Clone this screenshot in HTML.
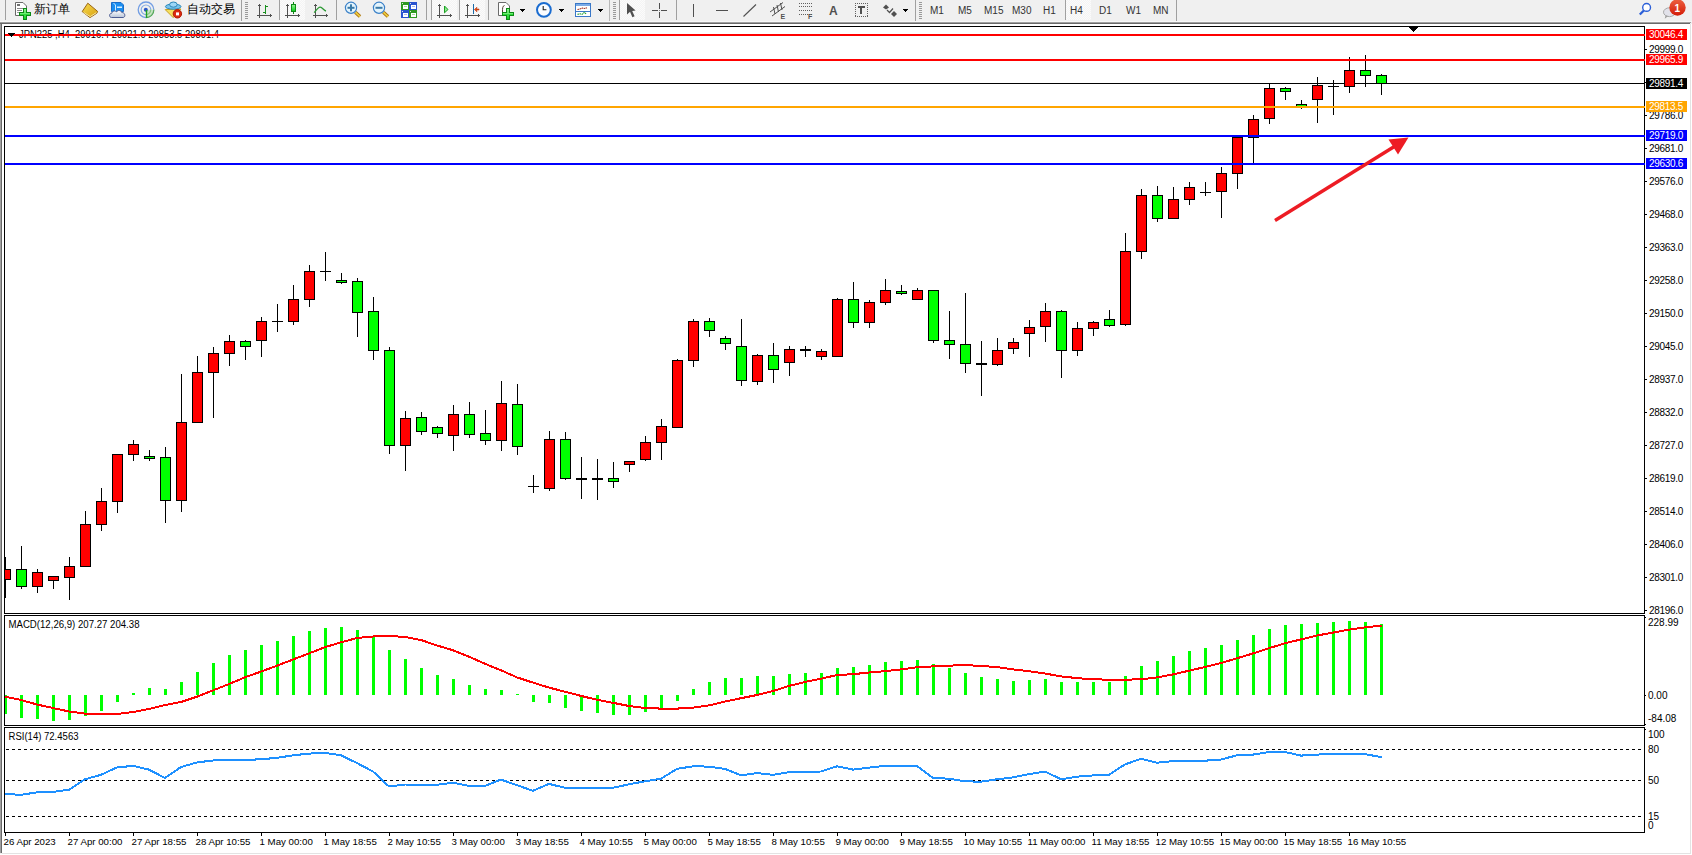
<!DOCTYPE html><html><head><meta charset="utf-8"><title>MT4 JPN225 H4</title><style>
html,body{margin:0;padding:0;background:#f0f0f0;width:1692px;height:855px;overflow:hidden}
svg{position:absolute;left:0;top:0;display:block}
.t,.a,.tf,.ic,.icA,.badge{font-family:"Liberation Sans",sans-serif}
.t{font-size:10px;fill:#000}
.a{font-size:10px;fill:#000}
.w{fill:#fff}
.tl{font-size:9.7px}
.pl{letter-spacing:-0.3px}
.cn{font-family:"Liberation Sans",sans-serif;font-size:12px;fill:#000}
.tf{font-size:10px;fill:#333}
.ic{font-size:7px;font-weight:bold;fill:#505050}
.icA{font-size:12px;font-weight:bold;fill:#505050}
.badge{font-size:10px;font-weight:bold;fill:#fff}
</style></head><body><svg class="chart" width="1692" height="855" viewBox="0 0 1692 855" shape-rendering="crispEdges"><defs><clipPath id="cm"><rect x="5" y="27" width="1640" height="586"/></clipPath><clipPath id="cmacd"><rect x="5" y="616" width="1639" height="109"/></clipPath><clipPath id="crsi"><rect x="5" y="728" width="1639" height="104"/></clipPath></defs><rect x="0" y="24" width="2" height="829" fill="#a0a0a0"/><rect x="1" y="24" width="1" height="829" fill="#696969"/><rect x="2" y="24" width="1688" height="829" fill="#ffffff"/><rect x="1691" y="24" width="1" height="831" fill="#ffffff"/><rect x="0" y="854" width="1692" height="1" fill="#ffffff"/><rect x="1690" y="24" width="1" height="830" fill="#e3e3e3"/><rect x="2" y="853" width="1689" height="1" fill="#e3e3e3"/><rect x="4" y="26" width="1641" height="1" fill="#000"/><rect x="4" y="613" width="1641" height="1" fill="#000"/><rect x="4" y="26" width="1" height="588" fill="#000"/><rect x="1644" y="26" width="1" height="588" fill="#000"/><rect x="4" y="615" width="1641" height="1" fill="#000"/><rect x="4" y="725" width="1641" height="1" fill="#000"/><rect x="4" y="615" width="1" height="111" fill="#000"/><rect x="1644" y="615" width="1" height="111" fill="#000"/><rect x="4" y="727" width="1641" height="1" fill="#000"/><rect x="4" y="832" width="1641" height="1" fill="#000"/><rect x="4" y="727" width="1" height="106" fill="#000"/><rect x="1644" y="727" width="1" height="106" fill="#000"/><g clip-path="url(#cm)"><rect x="5" y="83" width="1639" height="1" fill="#000"/><rect x="1409" y="27" width="9" height="1" fill="#000"/><rect x="1410" y="28" width="7" height="1" fill="#000"/><rect x="1411" y="29" width="5" height="1" fill="#000"/><rect x="1412" y="30" width="3" height="1" fill="#000"/><rect x="1413" y="31" width="1" height="1" fill="#000"/><rect x="5" y="557" width="1" height="41" fill="#000"/><rect x="0" y="569" width="11" height="11" fill="#000"/><rect x="1" y="570" width="9" height="9" fill="#ff0000"/><rect x="21" y="546" width="1" height="43" fill="#000"/><rect x="16" y="569" width="11" height="18" fill="#000"/><rect x="17" y="570" width="9" height="16" fill="#00ff00"/><rect x="37" y="569" width="1" height="24" fill="#000"/><rect x="32" y="572" width="11" height="15" fill="#000"/><rect x="33" y="573" width="9" height="13" fill="#ff0000"/><rect x="53" y="576" width="1" height="13" fill="#000"/><rect x="48" y="576" width="11" height="5" fill="#000"/><rect x="49" y="577" width="9" height="3" fill="#ff0000"/><rect x="69" y="557" width="1" height="43" fill="#000"/><rect x="64" y="566" width="11" height="12" fill="#000"/><rect x="65" y="567" width="9" height="10" fill="#ff0000"/><rect x="85" y="511" width="1" height="56" fill="#000"/><rect x="80" y="524" width="11" height="43" fill="#000"/><rect x="81" y="525" width="9" height="41" fill="#ff0000"/><rect x="101" y="488" width="1" height="43" fill="#000"/><rect x="96" y="501" width="11" height="24" fill="#000"/><rect x="97" y="502" width="9" height="22" fill="#ff0000"/><rect x="117" y="454" width="1" height="59" fill="#000"/><rect x="112" y="454" width="11" height="48" fill="#000"/><rect x="113" y="455" width="9" height="46" fill="#ff0000"/><rect x="133" y="440" width="1" height="21" fill="#000"/><rect x="128" y="444" width="11" height="11" fill="#000"/><rect x="129" y="445" width="9" height="9" fill="#ff0000"/><rect x="149" y="450" width="1" height="11" fill="#000"/><rect x="144" y="456" width="11" height="3" fill="#000"/><rect x="145" y="457" width="9" height="1" fill="#00ff00"/><rect x="165" y="447" width="1" height="76" fill="#000"/><rect x="160" y="457" width="11" height="44" fill="#000"/><rect x="161" y="458" width="9" height="42" fill="#00ff00"/><rect x="181" y="374" width="1" height="138" fill="#000"/><rect x="176" y="422" width="11" height="79" fill="#000"/><rect x="177" y="423" width="9" height="77" fill="#ff0000"/><rect x="197" y="356" width="1" height="67" fill="#000"/><rect x="192" y="372" width="11" height="51" fill="#000"/><rect x="193" y="373" width="9" height="49" fill="#ff0000"/><rect x="213" y="347" width="1" height="71" fill="#000"/><rect x="208" y="353" width="11" height="20" fill="#000"/><rect x="209" y="354" width="9" height="18" fill="#ff0000"/><rect x="229" y="335" width="1" height="31" fill="#000"/><rect x="224" y="341" width="11" height="13" fill="#000"/><rect x="225" y="342" width="9" height="11" fill="#ff0000"/><rect x="245" y="340" width="1" height="20" fill="#000"/><rect x="240" y="341" width="11" height="6" fill="#000"/><rect x="241" y="342" width="9" height="4" fill="#00ff00"/><rect x="261" y="317" width="1" height="40" fill="#000"/><rect x="256" y="321" width="11" height="20" fill="#000"/><rect x="257" y="322" width="9" height="18" fill="#ff0000"/><rect x="277" y="304" width="1" height="28" fill="#000"/><rect x="272" y="321" width="11" height="1" fill="#000"/><rect x="293" y="285" width="1" height="40" fill="#000"/><rect x="288" y="299" width="11" height="23" fill="#000"/><rect x="289" y="300" width="9" height="21" fill="#ff0000"/><rect x="309" y="265" width="1" height="42" fill="#000"/><rect x="304" y="271" width="11" height="29" fill="#000"/><rect x="305" y="272" width="9" height="27" fill="#ff0000"/><rect x="325" y="252" width="1" height="29" fill="#000"/><rect x="320" y="271" width="11" height="1" fill="#000"/><rect x="341" y="273" width="1" height="11" fill="#000"/><rect x="336" y="280" width="11" height="3" fill="#000"/><rect x="337" y="281" width="9" height="1" fill="#00ff00"/><rect x="357" y="278" width="1" height="59" fill="#000"/><rect x="352" y="281" width="11" height="32" fill="#000"/><rect x="353" y="282" width="9" height="30" fill="#00ff00"/><rect x="373" y="297" width="1" height="63" fill="#000"/><rect x="368" y="311" width="11" height="40" fill="#000"/><rect x="369" y="312" width="9" height="38" fill="#00ff00"/><rect x="389" y="347" width="1" height="107" fill="#000"/><rect x="384" y="350" width="11" height="96" fill="#000"/><rect x="385" y="351" width="9" height="94" fill="#00ff00"/><rect x="405" y="411" width="1" height="60" fill="#000"/><rect x="400" y="418" width="11" height="28" fill="#000"/><rect x="401" y="419" width="9" height="26" fill="#ff0000"/><rect x="421" y="412" width="1" height="23" fill="#000"/><rect x="416" y="417" width="11" height="15" fill="#000"/><rect x="417" y="418" width="9" height="13" fill="#00ff00"/><rect x="437" y="426" width="1" height="12" fill="#000"/><rect x="432" y="427" width="11" height="7" fill="#000"/><rect x="433" y="428" width="9" height="5" fill="#00ff00"/><rect x="453" y="405" width="1" height="46" fill="#000"/><rect x="448" y="414" width="11" height="22" fill="#000"/><rect x="449" y="415" width="9" height="20" fill="#ff0000"/><rect x="469" y="402" width="1" height="36" fill="#000"/><rect x="464" y="414" width="11" height="21" fill="#000"/><rect x="465" y="415" width="9" height="19" fill="#00ff00"/><rect x="485" y="410" width="1" height="35" fill="#000"/><rect x="480" y="433" width="11" height="8" fill="#000"/><rect x="481" y="434" width="9" height="6" fill="#00ff00"/><rect x="501" y="381" width="1" height="70" fill="#000"/><rect x="496" y="403" width="11" height="38" fill="#000"/><rect x="497" y="404" width="9" height="36" fill="#ff0000"/><rect x="517" y="384" width="1" height="71" fill="#000"/><rect x="512" y="404" width="11" height="43" fill="#000"/><rect x="513" y="405" width="9" height="41" fill="#00ff00"/><rect x="533" y="475" width="1" height="18" fill="#000"/><rect x="528" y="486" width="11" height="1" fill="#000"/><rect x="549" y="431" width="1" height="60" fill="#000"/><rect x="544" y="439" width="11" height="50" fill="#000"/><rect x="545" y="440" width="9" height="48" fill="#ff0000"/><rect x="565" y="432" width="1" height="48" fill="#000"/><rect x="560" y="439" width="11" height="40" fill="#000"/><rect x="561" y="440" width="9" height="38" fill="#00ff00"/><rect x="581" y="457" width="1" height="42" fill="#000"/><rect x="576" y="478" width="11" height="2" fill="#000"/><rect x="597" y="459" width="1" height="41" fill="#000"/><rect x="592" y="478" width="11" height="2" fill="#000"/><rect x="613" y="462" width="1" height="26" fill="#000"/><rect x="608" y="478" width="11" height="4" fill="#000"/><rect x="609" y="479" width="9" height="2" fill="#00ff00"/><rect x="629" y="461" width="1" height="11" fill="#000"/><rect x="624" y="461" width="11" height="4" fill="#000"/><rect x="625" y="462" width="9" height="2" fill="#ff0000"/><rect x="645" y="436" width="1" height="25" fill="#000"/><rect x="640" y="442" width="11" height="18" fill="#000"/><rect x="641" y="443" width="9" height="16" fill="#ff0000"/><rect x="661" y="419" width="1" height="41" fill="#000"/><rect x="656" y="426" width="11" height="17" fill="#000"/><rect x="657" y="427" width="9" height="15" fill="#ff0000"/><rect x="677" y="359" width="1" height="69" fill="#000"/><rect x="672" y="360" width="11" height="68" fill="#000"/><rect x="673" y="361" width="9" height="66" fill="#ff0000"/><rect x="693" y="319" width="1" height="48" fill="#000"/><rect x="688" y="321" width="11" height="40" fill="#000"/><rect x="689" y="322" width="9" height="38" fill="#ff0000"/><rect x="709" y="318" width="1" height="19" fill="#000"/><rect x="704" y="321" width="11" height="10" fill="#000"/><rect x="705" y="322" width="9" height="8" fill="#00ff00"/><rect x="725" y="336" width="1" height="14" fill="#000"/><rect x="720" y="338" width="11" height="6" fill="#000"/><rect x="721" y="339" width="9" height="4" fill="#00ff00"/><rect x="741" y="319" width="1" height="67" fill="#000"/><rect x="736" y="346" width="11" height="35" fill="#000"/><rect x="737" y="347" width="9" height="33" fill="#00ff00"/><rect x="757" y="354" width="1" height="31" fill="#000"/><rect x="752" y="355" width="11" height="27" fill="#000"/><rect x="753" y="356" width="9" height="25" fill="#ff0000"/><rect x="773" y="343" width="1" height="40" fill="#000"/><rect x="768" y="355" width="11" height="15" fill="#000"/><rect x="769" y="356" width="9" height="13" fill="#00ff00"/><rect x="789" y="346" width="1" height="30" fill="#000"/><rect x="784" y="349" width="11" height="14" fill="#000"/><rect x="785" y="350" width="9" height="12" fill="#ff0000"/><rect x="805" y="346" width="1" height="11" fill="#000"/><rect x="800" y="349" width="11" height="2" fill="#000"/><rect x="821" y="349" width="1" height="11" fill="#000"/><rect x="816" y="351" width="11" height="6" fill="#000"/><rect x="817" y="352" width="9" height="4" fill="#ff0000"/><rect x="837" y="298" width="1" height="59" fill="#000"/><rect x="832" y="299" width="11" height="58" fill="#000"/><rect x="833" y="300" width="9" height="56" fill="#ff0000"/><rect x="853" y="282" width="1" height="46" fill="#000"/><rect x="848" y="299" width="11" height="24" fill="#000"/><rect x="849" y="300" width="9" height="22" fill="#00ff00"/><rect x="869" y="300" width="1" height="28" fill="#000"/><rect x="864" y="302" width="11" height="21" fill="#000"/><rect x="865" y="303" width="9" height="19" fill="#ff0000"/><rect x="885" y="279" width="1" height="26" fill="#000"/><rect x="880" y="290" width="11" height="13" fill="#000"/><rect x="881" y="291" width="9" height="11" fill="#ff0000"/><rect x="901" y="285" width="1" height="10" fill="#000"/><rect x="896" y="291" width="11" height="3" fill="#000"/><rect x="897" y="292" width="9" height="1" fill="#00ff00"/><rect x="917" y="288" width="1" height="12" fill="#000"/><rect x="912" y="290" width="11" height="10" fill="#000"/><rect x="913" y="291" width="9" height="8" fill="#ff0000"/><rect x="933" y="290" width="1" height="53" fill="#000"/><rect x="928" y="290" width="11" height="51" fill="#000"/><rect x="929" y="291" width="9" height="49" fill="#00ff00"/><rect x="949" y="311" width="1" height="48" fill="#000"/><rect x="944" y="340" width="11" height="5" fill="#000"/><rect x="945" y="341" width="9" height="3" fill="#00ff00"/><rect x="965" y="293" width="1" height="80" fill="#000"/><rect x="960" y="344" width="11" height="20" fill="#000"/><rect x="961" y="345" width="9" height="18" fill="#00ff00"/><rect x="981" y="341" width="1" height="55" fill="#000"/><rect x="976" y="363" width="11" height="2" fill="#000"/><rect x="997" y="338" width="1" height="28" fill="#000"/><rect x="992" y="350" width="11" height="15" fill="#000"/><rect x="993" y="351" width="9" height="13" fill="#ff0000"/><rect x="1013" y="338" width="1" height="16" fill="#000"/><rect x="1008" y="342" width="11" height="7" fill="#000"/><rect x="1009" y="343" width="9" height="5" fill="#ff0000"/><rect x="1029" y="320" width="1" height="37" fill="#000"/><rect x="1024" y="327" width="11" height="7" fill="#000"/><rect x="1025" y="328" width="9" height="5" fill="#ff0000"/><rect x="1045" y="303" width="1" height="39" fill="#000"/><rect x="1040" y="311" width="11" height="16" fill="#000"/><rect x="1041" y="312" width="9" height="14" fill="#ff0000"/><rect x="1061" y="310" width="1" height="68" fill="#000"/><rect x="1056" y="311" width="11" height="40" fill="#000"/><rect x="1057" y="312" width="9" height="38" fill="#00ff00"/><rect x="1077" y="322" width="1" height="34" fill="#000"/><rect x="1072" y="328" width="11" height="23" fill="#000"/><rect x="1073" y="329" width="9" height="21" fill="#ff0000"/><rect x="1093" y="321" width="1" height="15" fill="#000"/><rect x="1088" y="322" width="11" height="7" fill="#000"/><rect x="1089" y="323" width="9" height="5" fill="#ff0000"/><rect x="1109" y="310" width="1" height="17" fill="#000"/><rect x="1104" y="319" width="11" height="7" fill="#000"/><rect x="1105" y="320" width="9" height="5" fill="#00ff00"/><rect x="1125" y="233" width="1" height="93" fill="#000"/><rect x="1120" y="251" width="11" height="74" fill="#000"/><rect x="1121" y="252" width="9" height="72" fill="#ff0000"/><rect x="1141" y="189" width="1" height="70" fill="#000"/><rect x="1136" y="195" width="11" height="57" fill="#000"/><rect x="1137" y="196" width="9" height="55" fill="#ff0000"/><rect x="1157" y="186" width="1" height="36" fill="#000"/><rect x="1152" y="195" width="11" height="24" fill="#000"/><rect x="1153" y="196" width="9" height="22" fill="#00ff00"/><rect x="1173" y="187" width="1" height="32" fill="#000"/><rect x="1168" y="199" width="11" height="20" fill="#000"/><rect x="1169" y="200" width="9" height="18" fill="#ff0000"/><rect x="1189" y="182" width="1" height="23" fill="#000"/><rect x="1184" y="187" width="11" height="13" fill="#000"/><rect x="1185" y="188" width="9" height="11" fill="#ff0000"/><rect x="1205" y="182" width="1" height="14" fill="#000"/><rect x="1200" y="192" width="11" height="1" fill="#000"/><rect x="1221" y="167" width="1" height="51" fill="#000"/><rect x="1216" y="173" width="11" height="19" fill="#000"/><rect x="1217" y="174" width="9" height="17" fill="#ff0000"/><rect x="1237" y="136" width="1" height="53" fill="#000"/><rect x="1232" y="137" width="11" height="37" fill="#000"/><rect x="1233" y="138" width="9" height="35" fill="#ff0000"/><rect x="1253" y="115" width="1" height="49" fill="#000"/><rect x="1248" y="119" width="11" height="19" fill="#000"/><rect x="1249" y="120" width="9" height="17" fill="#ff0000"/><rect x="1269" y="83" width="1" height="41" fill="#000"/><rect x="1264" y="88" width="11" height="31" fill="#000"/><rect x="1265" y="89" width="9" height="29" fill="#ff0000"/><rect x="1285" y="87" width="1" height="13" fill="#000"/><rect x="1280" y="88" width="11" height="4" fill="#000"/><rect x="1281" y="89" width="9" height="2" fill="#00ff00"/><rect x="1301" y="100" width="1" height="9" fill="#000"/><rect x="1296" y="104" width="11" height="4" fill="#000"/><rect x="1297" y="105" width="9" height="2" fill="#00ff00"/><rect x="1317" y="77" width="1" height="46" fill="#000"/><rect x="1312" y="85" width="11" height="15" fill="#000"/><rect x="1313" y="86" width="9" height="13" fill="#ff0000"/><rect x="1333" y="80" width="1" height="35" fill="#000"/><rect x="1328" y="86" width="11" height="1" fill="#000"/><rect x="1349" y="57" width="1" height="36" fill="#000"/><rect x="1344" y="70" width="11" height="17" fill="#000"/><rect x="1345" y="71" width="9" height="15" fill="#ff0000"/><rect x="1365" y="55" width="1" height="32" fill="#000"/><rect x="1360" y="70" width="11" height="6" fill="#000"/><rect x="1361" y="71" width="9" height="4" fill="#00ff00"/><rect x="1381" y="74" width="1" height="21" fill="#000"/><rect x="1376" y="75" width="11" height="9" fill="#000"/><rect x="1377" y="76" width="9" height="7" fill="#00ff00"/><text x="19" y="38" class="t" textLength="200" lengthAdjust="spacingAndGlyphs">JPN225 ,H4&#160;&#160;29916.4 29921.0 29853.5 29891.4</text><rect x="5" y="34" width="1640" height="2" fill="#ff0000"/><rect x="5" y="59" width="1640" height="2" fill="#ff0000"/><rect x="5" y="106" width="1640" height="2" fill="#ffa500"/><rect x="5" y="135" width="1640" height="2" fill="#0000ff"/><rect x="5" y="163" width="1640" height="2" fill="#0000ff"/><rect x="8" y="33" width="7" height="1" fill="#000"/><rect x="9" y="34" width="5" height="1" fill="#000"/><rect x="10" y="35" width="3" height="1" fill="#000"/><rect x="11" y="36" width="1" height="1" fill="#000"/><g shape-rendering="auto"><line x1="1275" y1="220.5" x2="1396" y2="145.5" stroke="#ed1c24" stroke-width="3.4"/><polygon points="1388.5,139.5 1408.5,137.5 1398,154.5" fill="#ed1c24"/></g></g><rect x="1645" y="49" width="2" height="1" fill="#000"/><text x="1649" y="53" class="a pl">29999.0</text><rect x="1645" y="82" width="2" height="1" fill="#000"/><text x="1649" y="86" class="a pl">29893.0</text><rect x="1645" y="115" width="2" height="1" fill="#000"/><text x="1649" y="119" class="a pl">29786.0</text><rect x="1645" y="148" width="2" height="1" fill="#000"/><text x="1649" y="152" class="a pl">29681.0</text><rect x="1645" y="181" width="2" height="1" fill="#000"/><text x="1649" y="185" class="a pl">29576.0</text><rect x="1645" y="214" width="2" height="1" fill="#000"/><text x="1649" y="218" class="a pl">29468.0</text><rect x="1645" y="247" width="2" height="1" fill="#000"/><text x="1649" y="251" class="a pl">29363.0</text><rect x="1645" y="280" width="2" height="1" fill="#000"/><text x="1649" y="284" class="a pl">29258.0</text><rect x="1645" y="313" width="2" height="1" fill="#000"/><text x="1649" y="317" class="a pl">29150.0</text><rect x="1645" y="346" width="2" height="1" fill="#000"/><text x="1649" y="350" class="a pl">29045.0</text><rect x="1645" y="379" width="2" height="1" fill="#000"/><text x="1649" y="383" class="a pl">28937.0</text><rect x="1645" y="412" width="2" height="1" fill="#000"/><text x="1649" y="416" class="a pl">28832.0</text><rect x="1645" y="445" width="2" height="1" fill="#000"/><text x="1649" y="449" class="a pl">28727.0</text><rect x="1645" y="478" width="2" height="1" fill="#000"/><text x="1649" y="482" class="a pl">28619.0</text><rect x="1645" y="511" width="2" height="1" fill="#000"/><text x="1649" y="515" class="a pl">28514.0</text><rect x="1645" y="544" width="2" height="1" fill="#000"/><text x="1649" y="548" class="a pl">28406.0</text><rect x="1645" y="577" width="2" height="1" fill="#000"/><text x="1649" y="581" class="a pl">28301.0</text><rect x="1645" y="610" width="2" height="1" fill="#000"/><text x="1649" y="614" class="a pl">28196.0</text><rect x="1646" y="29" width="41" height="11" fill="#ff0000"/><text x="1649" y="38" class="a w pl">30046.4</text><rect x="1646" y="54" width="41" height="11" fill="#ff0000"/><text x="1649" y="63" class="a w pl">29965.9</text><rect x="1646" y="78" width="41" height="11" fill="#000000"/><text x="1649" y="87" class="a w pl">29891.4</text><rect x="1646" y="101" width="41" height="11" fill="#ffa500"/><text x="1649" y="110" class="a w pl">29813.5</text><rect x="1646" y="130" width="41" height="11" fill="#0000ff"/><text x="1649" y="139" class="a w pl">29719.0</text><rect x="1646" y="158" width="41" height="11" fill="#0000ff"/><text x="1649" y="167" class="a w pl">29630.6</text><g clip-path="url(#cmacd)"><rect x="4" y="695" width="3" height="19" fill="#00ff00"/><rect x="20" y="695" width="3" height="23" fill="#00ff00"/><rect x="36" y="695" width="3" height="24" fill="#00ff00"/><rect x="52" y="695" width="3" height="26" fill="#00ff00"/><rect x="68" y="695" width="3" height="25" fill="#00ff00"/><rect x="84" y="695" width="3" height="21" fill="#00ff00"/><rect x="100" y="695" width="3" height="16" fill="#00ff00"/><rect x="116" y="695" width="3" height="7" fill="#00ff00"/><rect x="132" y="693" width="3" height="2" fill="#00ff00"/><rect x="148" y="688" width="3" height="7" fill="#00ff00"/><rect x="164" y="689" width="3" height="6" fill="#00ff00"/><rect x="180" y="682" width="3" height="13" fill="#00ff00"/><rect x="196" y="672" width="3" height="23" fill="#00ff00"/><rect x="212" y="663" width="3" height="32" fill="#00ff00"/><rect x="228" y="655" width="3" height="40" fill="#00ff00"/><rect x="244" y="650" width="3" height="45" fill="#00ff00"/><rect x="260" y="645" width="3" height="50" fill="#00ff00"/><rect x="276" y="641" width="3" height="54" fill="#00ff00"/><rect x="292" y="636" width="3" height="59" fill="#00ff00"/><rect x="308" y="631" width="3" height="64" fill="#00ff00"/><rect x="324" y="628" width="3" height="67" fill="#00ff00"/><rect x="340" y="627" width="3" height="68" fill="#00ff00"/><rect x="356" y="630" width="3" height="65" fill="#00ff00"/><rect x="372" y="637" width="3" height="58" fill="#00ff00"/><rect x="388" y="650" width="3" height="45" fill="#00ff00"/><rect x="404" y="659" width="3" height="36" fill="#00ff00"/><rect x="420" y="668" width="3" height="27" fill="#00ff00"/><rect x="436" y="675" width="3" height="20" fill="#00ff00"/><rect x="452" y="679" width="3" height="16" fill="#00ff00"/><rect x="468" y="685" width="3" height="10" fill="#00ff00"/><rect x="484" y="689" width="3" height="6" fill="#00ff00"/><rect x="500" y="690" width="3" height="5" fill="#00ff00"/><rect x="516" y="694" width="3" height="1" fill="#00ff00"/><rect x="532" y="695" width="3" height="7" fill="#00ff00"/><rect x="548" y="695" width="3" height="8" fill="#00ff00"/><rect x="564" y="695" width="3" height="13" fill="#00ff00"/><rect x="580" y="695" width="3" height="16" fill="#00ff00"/><rect x="596" y="695" width="3" height="18" fill="#00ff00"/><rect x="612" y="695" width="3" height="20" fill="#00ff00"/><rect x="628" y="695" width="3" height="20" fill="#00ff00"/><rect x="644" y="695" width="3" height="17" fill="#00ff00"/><rect x="660" y="695" width="3" height="13" fill="#00ff00"/><rect x="676" y="695" width="3" height="6" fill="#00ff00"/><rect x="692" y="689" width="3" height="6" fill="#00ff00"/><rect x="708" y="682" width="3" height="13" fill="#00ff00"/><rect x="724" y="678" width="3" height="17" fill="#00ff00"/><rect x="740" y="678" width="3" height="17" fill="#00ff00"/><rect x="756" y="676" width="3" height="19" fill="#00ff00"/><rect x="772" y="676" width="3" height="19" fill="#00ff00"/><rect x="788" y="674" width="3" height="21" fill="#00ff00"/><rect x="804" y="673" width="3" height="22" fill="#00ff00"/><rect x="820" y="673" width="3" height="22" fill="#00ff00"/><rect x="836" y="668" width="3" height="27" fill="#00ff00"/><rect x="852" y="667" width="3" height="28" fill="#00ff00"/><rect x="868" y="665" width="3" height="30" fill="#00ff00"/><rect x="884" y="662" width="3" height="33" fill="#00ff00"/><rect x="900" y="661" width="3" height="34" fill="#00ff00"/><rect x="916" y="660" width="3" height="35" fill="#00ff00"/><rect x="932" y="664" width="3" height="31" fill="#00ff00"/><rect x="948" y="668" width="3" height="27" fill="#00ff00"/><rect x="964" y="673" width="3" height="22" fill="#00ff00"/><rect x="980" y="677" width="3" height="18" fill="#00ff00"/><rect x="996" y="679" width="3" height="16" fill="#00ff00"/><rect x="1012" y="681" width="3" height="14" fill="#00ff00"/><rect x="1028" y="680" width="3" height="15" fill="#00ff00"/><rect x="1044" y="679" width="3" height="16" fill="#00ff00"/><rect x="1060" y="682" width="3" height="13" fill="#00ff00"/><rect x="1076" y="682" width="3" height="13" fill="#00ff00"/><rect x="1092" y="682" width="3" height="13" fill="#00ff00"/><rect x="1108" y="682" width="3" height="13" fill="#00ff00"/><rect x="1124" y="676" width="3" height="19" fill="#00ff00"/><rect x="1140" y="666" width="3" height="29" fill="#00ff00"/><rect x="1156" y="661" width="3" height="34" fill="#00ff00"/><rect x="1172" y="656" width="3" height="39" fill="#00ff00"/><rect x="1188" y="651" width="3" height="44" fill="#00ff00"/><rect x="1204" y="648" width="3" height="47" fill="#00ff00"/><rect x="1220" y="645" width="3" height="50" fill="#00ff00"/><rect x="1236" y="640" width="3" height="55" fill="#00ff00"/><rect x="1252" y="635" width="3" height="60" fill="#00ff00"/><rect x="1268" y="629" width="3" height="66" fill="#00ff00"/><rect x="1284" y="625" width="3" height="70" fill="#00ff00"/><rect x="1300" y="624" width="3" height="71" fill="#00ff00"/><rect x="1316" y="623" width="3" height="72" fill="#00ff00"/><rect x="1332" y="622" width="3" height="73" fill="#00ff00"/><rect x="1348" y="621" width="3" height="74" fill="#00ff00"/><rect x="1364" y="622" width="3" height="73" fill="#00ff00"/><rect x="1380" y="624" width="3" height="71" fill="#00ff00"/><polyline points="5,696.7 21,700 37,704.5 53,708 69,711.5 85,713.6 101,714 117,714 133,712 149,709 165,705 181,702 197,696.7 213,690.4 229,684 245,677.3 261,671.6 277,665.7 293,659.5 309,653.4 325,647.2 341,642.3 357,638 373,636.5 389,635.9 405,637 421,640 437,645.5 453,650.3 469,656.7 485,663.8 501,670.3 517,677.4 533,682.6 549,687.6 565,691.7 581,695.9 597,699.8 613,702.8 629,706 645,708 661,708.6 677,708.6 693,707.6 709,705.4 725,701.5 741,698.2 757,695 773,691 789,685.9 805,682 821,678.7 837,675 853,674.2 869,672.5 885,671.2 901,669.4 917,667.3 933,666.4 949,665.7 965,665 981,666 997,667 1013,669.4 1029,671.2 1045,673.5 1061,676.4 1077,678.1 1093,679.4 1109,679.6 1125,679.6 1141,679.4 1157,677.4 1173,674.4 1189,670.7 1205,667 1221,663.1 1237,658.3 1253,653.4 1269,648.2 1285,643.3 1301,639.4 1317,635.5 1333,632.6 1349,629.6 1365,627.4 1381,625.7" fill="none" stroke="#ff0000" stroke-width="2" stroke-linejoin="round" stroke-linecap="square"/><text x="8.5" y="628" class="t" textLength="131" lengthAdjust="spacingAndGlyphs">MACD(12,26,9) 207.27 204.38</text></g><rect x="1645" y="617" width="1" height="1" fill="#000"/><rect x="1645" y="695" width="1" height="1" fill="#000"/><rect x="1645" y="724" width="1" height="1" fill="#000"/><text x="1648" y="626" class="a">228.99</text><text x="1648" y="699" class="a">0.00</text><text x="1648" y="722" class="a">-84.08</text><g clip-path="url(#crsi)"><line x1="6" y1="749.5" x2="1644" y2="749.5" stroke="#000" stroke-width="1" stroke-dasharray="3,3"/><line x1="6" y1="780.5" x2="1644" y2="780.5" stroke="#000" stroke-width="1" stroke-dasharray="3,3"/><line x1="6" y1="816.5" x2="1644" y2="816.5" stroke="#000" stroke-width="1" stroke-dasharray="3,3"/><polyline points="5,793.9 21,794.9 37,792.3 53,791.9 69,789.7 85,779.3 101,774.8 117,767.4 133,765.9 149,769.6 165,778 181,767 197,762.4 213,760.5 229,760.1 245,760.1 261,759.2 277,757.9 293,755.3 309,753.6 325,752.9 341,755.3 357,763.1 373,771.5 389,786.5 405,784.5 421,784.8 437,784.8 453,782.8 469,785.8 485,785.8 501,779.6 517,785.2 533,790.8 549,783.9 565,787.8 581,787.8 597,787.8 613,787.8 629,784.3 645,781.3 661,778.7 677,768.9 693,766.3 709,766.6 725,768.9 741,775.4 757,773.1 773,774.8 789,772.2 805,771.8 821,771.5 837,766.3 853,769.6 869,767.6 885,765.9 901,765.9 917,765.9 933,778 949,778.7 965,781.3 981,781.7 997,779.3 1013,777.4 1029,774.1 1045,771.5 1061,779.3 1077,776.7 1093,775.4 1109,774.8 1125,764.4 1141,758.8 1157,762.7 1173,761.1 1189,760.7 1205,760.7 1221,759.5 1237,755.3 1253,754.6 1269,752 1285,752 1301,755.6 1317,754.6 1333,753.7 1349,753.7 1365,754.2 1381,757" fill="none" stroke="#1e90ff" stroke-width="2" stroke-linejoin="round" stroke-linecap="square"/><text x="8.5" y="740" class="t" textLength="70" lengthAdjust="spacingAndGlyphs">RSI(14) 72.4563</text></g><rect x="1645" y="729" width="1" height="1" fill="#000"/><text x="1648" y="738" class="a">100</text><text x="1648" y="753" class="a">80</text><text x="1648" y="784" class="a">50</text><text x="1648" y="820" class="a">15</text><text x="1648" y="829" class="a">0</text><rect x="5" y="833" width="1" height="3" fill="#000"/><text x="3.5" y="845" class="a tl">26 Apr 2023</text><rect x="69" y="833" width="1" height="3" fill="#000"/><text x="67.5" y="845" class="a tl">27 Apr 00:00</text><rect x="133" y="833" width="1" height="3" fill="#000"/><text x="131.5" y="845" class="a tl">27 Apr 18:55</text><rect x="197" y="833" width="1" height="3" fill="#000"/><text x="195.5" y="845" class="a tl">28 Apr 10:55</text><rect x="261" y="833" width="1" height="3" fill="#000"/><text x="259.5" y="845" class="a tl">1 May 00:00</text><rect x="325" y="833" width="1" height="3" fill="#000"/><text x="323.5" y="845" class="a tl">1 May 18:55</text><rect x="389" y="833" width="1" height="3" fill="#000"/><text x="387.5" y="845" class="a tl">2 May 10:55</text><rect x="453" y="833" width="1" height="3" fill="#000"/><text x="451.5" y="845" class="a tl">3 May 00:00</text><rect x="517" y="833" width="1" height="3" fill="#000"/><text x="515.5" y="845" class="a tl">3 May 18:55</text><rect x="581" y="833" width="1" height="3" fill="#000"/><text x="579.5" y="845" class="a tl">4 May 10:55</text><rect x="645" y="833" width="1" height="3" fill="#000"/><text x="643.5" y="845" class="a tl">5 May 00:00</text><rect x="709" y="833" width="1" height="3" fill="#000"/><text x="707.5" y="845" class="a tl">5 May 18:55</text><rect x="773" y="833" width="1" height="3" fill="#000"/><text x="771.5" y="845" class="a tl">8 May 10:55</text><rect x="837" y="833" width="1" height="3" fill="#000"/><text x="835.5" y="845" class="a tl">9 May 00:00</text><rect x="901" y="833" width="1" height="3" fill="#000"/><text x="899.5" y="845" class="a tl">9 May 18:55</text><rect x="965" y="833" width="1" height="3" fill="#000"/><text x="963.5" y="845" class="a tl">10 May 10:55</text><rect x="1029" y="833" width="1" height="3" fill="#000"/><text x="1027.5" y="845" class="a tl">11 May 00:00</text><rect x="1093" y="833" width="1" height="3" fill="#000"/><text x="1091.5" y="845" class="a tl">11 May 18:55</text><rect x="1157" y="833" width="1" height="3" fill="#000"/><text x="1155.5" y="845" class="a tl">12 May 10:55</text><rect x="1221" y="833" width="1" height="3" fill="#000"/><text x="1219.5" y="845" class="a tl">15 May 00:00</text><rect x="1285" y="833" width="1" height="3" fill="#000"/><text x="1283.5" y="845" class="a tl">15 May 18:55</text><rect x="1349" y="833" width="1" height="3" fill="#000"/><text x="1347.5" y="845" class="a tl">16 May 10:55</text></svg><svg class="tool" width="1692" height="24" viewBox="0 0 1692 24" shape-rendering="crispEdges"><rect x="0" y="0" width="1692" height="21" fill="#f0f0f0"/><rect x="0" y="21" width="1692" height="1" fill="#f7f7f7"/><rect x="0" y="22" width="1691" height="1" fill="#a0a0a0"/><rect x="0" y="23" width="1690" height="1" fill="#696969"/><defs><pattern id="chk" width="2" height="2" patternUnits="userSpaceOnUse"><rect width="2" height="2" fill="#f4f4f4"/><rect width="1" height="1" fill="#fbfbfb"/><rect x="1" y="1" width="1" height="1" fill="#fbfbfb"/></pattern><linearGradient id="gg" x1="0" y1="0" x2="0" y2="1"><stop offset="0" stop-color="#8ef58e"/><stop offset="1" stop-color="#10d020"/></linearGradient><linearGradient id="gold" x1="0" y1="0" x2="1" y2="1"><stop offset="0" stop-color="#f8dc50"/><stop offset="1" stop-color="#d8a010"/></linearGradient><linearGradient id="cloud" x1="0" y1="0" x2="0" y2="1"><stop offset="0" stop-color="#ffffff"/><stop offset="1" stop-color="#b8c4d8"/></linearGradient><linearGradient id="badge" x1="0" y1="0" x2="0" y2="1"><stop offset="0" stop-color="#ec6040"/><stop offset="1" stop-color="#d41c08"/></linearGradient></defs><rect x="5" y="0" width="1" height="20" fill="#a0a0a0"/><path d="M15.5,2.5 H23 L26.5,6 V15.5 H15.5 Z" fill="#fff" stroke="#6a6a6a" shape-rendering="auto"/><rect x="17" y="4" width="3" height="2" fill="#707070"/><rect x="17" y="8" width="6" height="1" fill="#8a8a8a"/><rect x="17" y="10" width="5" height="1" fill="#8a8a8a"/><rect x="17" y="12" width="2" height="1" fill="#9a9a9a"/><rect x="23" y="8" width="4" height="12" fill="#0b8a14"/><rect x="19" y="12" width="12" height="4" fill="#0b8a14"/><rect x="24" y="9" width="2" height="10" fill="url(#gg)"/><rect x="20" y="13" width="10" height="2" fill="url(#gg)"/><text x="34" y="13" class="cn">新订单</text><g shape-rendering="auto"><path d="M82.2,11.6 L87.8,3.2 L97.6,11.4 L96.8,13.2 L90,17.6 Z" fill="url(#gold)" stroke="#9a6410" stroke-width="1"/><path d="M83.6,12.4 L90.2,16.6 L96.4,12.6" fill="none" stroke="#f6e6a0" stroke-width="1"/></g><g shape-rendering="auto"><path d="M111.5,2.5 H121 L123.5,5 V11.5 H111.5 Z" fill="#1a8ef0" stroke="#1a6cc8"/><path d="M113.5,3 L115.5,5 V11" fill="none" stroke="#cfeaff" stroke-width="1"/><rect x="117" y="6.5" width="5" height="1.5" fill="#d8f0ff"/><path d="M111.5,17.5 C108.8,17.5 109,13.2 111.8,13.2 C112.2,11 115,10.2 116.6,11.8 C117.8,9.8 121.2,10.2 121.8,12.6 C125.4,12.2 125.8,17.5 123,17.5 Z" fill="url(#cloud)" stroke="#4c5c92" stroke-width="1"/></g><g shape-rendering="auto" fill="none"><path d="M146,17.6 A7.8,7.8 0 1 1 153.8,9.8" stroke="#5a8ee0" stroke-width="1.3" opacity="0.85"/><path d="M153.8,9.8 A7.8,7.8 0 0 1 146,17.6" stroke="#3c9a48" stroke-width="1.3"/><path d="M146,14.6 A4.8,4.8 0 1 1 150.8,9.8" stroke="#6a9ae0" stroke-width="1.2" opacity="0.8"/><path d="M150.8,9.8 A4.8,4.8 0 0 1 146,14.6" stroke="#58b060" stroke-width="1.2"/><path d="M146,9.8 L153.8,9.8 A7.8,7.8 0 0 1 146,17.6 Z" fill="#a8d8a0" stroke="none" opacity="0.55"/><circle cx="145.8" cy="9.8" r="2" fill="#2a58c8" stroke="none"/><path d="M146.5,10 V17.8" stroke="#20a020" stroke-width="1.4"/></g><g shape-rendering="auto"><path d="M165.2,9.6 L181,9 L173.2,17.6 Z" fill="#f6e060" stroke="#c8a020" stroke-width="1"/><ellipse cx="173.2" cy="6.6" rx="7.8" ry="2.6" fill="#78c4ec" stroke="#2a86b8" stroke-width="1"/><ellipse cx="173.4" cy="4.6" rx="3.8" ry="2.6" fill="#9cd6f6" stroke="#2a86b8" stroke-width="1"/><circle cx="177.4" cy="13.8" r="4.2" fill="#dc2a10" stroke="#b01800" stroke-width="1"/><rect x="176" y="12.4" width="3" height="3" fill="#fff"/></g><text x="187" y="13" class="cn">自动交易</text><rect x="241" y="0" width="1" height="21" fill="#a0a0a0"/><rect x="245" y="2" width="3" height="1" fill="#9a9a9a"/><rect x="245" y="4" width="3" height="1" fill="#9a9a9a"/><rect x="245" y="6" width="3" height="1" fill="#9a9a9a"/><rect x="245" y="8" width="3" height="1" fill="#9a9a9a"/><rect x="245" y="10" width="3" height="1" fill="#9a9a9a"/><rect x="245" y="12" width="3" height="1" fill="#9a9a9a"/><rect x="245" y="14" width="3" height="1" fill="#9a9a9a"/><rect x="245" y="16" width="3" height="1" fill="#9a9a9a"/><rect x="245" y="18" width="3" height="1" fill="#9a9a9a"/><rect x="259" y="5" width="1" height="13" fill="#505050"/><rect x="258" y="5" width="3" height="1" fill="#505050"/><rect x="259" y="4" width="1" height="1" fill="#505050"/><rect x="257" y="15" width="14" height="1" fill="#505050"/><rect x="270" y="14" width="1" height="3" fill="#505050"/><rect x="271" y="15" width="1" height="1" fill="#505050"/><rect x="265" y="5" width="1" height="9" fill="#18901e"/><rect x="266" y="6" width="2" height="1" fill="#18901e"/><rect x="263" y="12" width="2" height="1" fill="#18901e"/><rect x="279" y="0" width="1" height="20" fill="#a0a0a0"/><rect x="280" y="0" width="25" height="20" fill="url(#chk)"/><rect x="287" y="5" width="1" height="13" fill="#505050"/><rect x="286" y="5" width="3" height="1" fill="#505050"/><rect x="287" y="4" width="1" height="1" fill="#505050"/><rect x="285" y="15" width="14" height="1" fill="#505050"/><rect x="298" y="14" width="1" height="3" fill="#505050"/><rect x="299" y="15" width="1" height="1" fill="#505050"/><rect x="293" y="2" width="1" height="12" fill="#0e8a16"/><rect x="291" y="4" width="5" height="8" fill="#0e8a16"/><rect x="292" y="5" width="3" height="6" fill="url(#gg)"/><rect x="315" y="5" width="1" height="13" fill="#505050"/><rect x="314" y="5" width="3" height="1" fill="#505050"/><rect x="315" y="4" width="1" height="1" fill="#505050"/><rect x="313" y="15" width="14" height="1" fill="#505050"/><rect x="326" y="14" width="1" height="3" fill="#505050"/><rect x="327" y="15" width="1" height="1" fill="#505050"/><path d="M314.2,12.6 C316.5,9.5 318.6,7 320.3,7.1 C322.2,7.2 323.8,10.4 326,11" fill="none" stroke="#2c9a34" stroke-width="1.3" shape-rendering="auto"/><rect x="336" y="0" width="1" height="20" fill="#a0a0a0"/><g shape-rendering="auto"><line x1="355.3" y1="12.2" x2="360.0" y2="16.6" stroke="#a87010" stroke-width="3.4"/><line x1="355.3" y1="12.2" x2="360.0" y2="16.6" stroke="#f0d040" stroke-width="1.6"/><circle cx="351" cy="7.8" r="5.6" fill="#e4f4fc" stroke="#3a80c8" stroke-width="1.2"/><rect x="347.5" y="6.8" width="7" height="2" fill="#3a7aa8"/><rect x="350.0" y="4.3" width="2" height="7" fill="#3a7aa8"/></g><g shape-rendering="auto"><line x1="383.3" y1="12.2" x2="388.0" y2="16.6" stroke="#a87010" stroke-width="3.4"/><line x1="383.3" y1="12.2" x2="388.0" y2="16.6" stroke="#f0d040" stroke-width="1.6"/><circle cx="379" cy="7.8" r="5.6" fill="#e4f4fc" stroke="#3a80c8" stroke-width="1.2"/><rect x="375.5" y="6.8" width="7" height="2" fill="#3a7aa8"/></g><rect x="401" y="2" width="8" height="8" fill="#2e9a22"/><rect x="409" y="2" width="8" height="8" fill="#2a54d0"/><rect x="401" y="10" width="8" height="8" fill="#2a54d0"/><rect x="409" y="10" width="8" height="8" fill="#2e9a22"/><rect x="403" y="5" width="5" height="4" fill="#ffffff"/><rect x="404" y="6" width="3" height="1" fill="#a8d8a0"/><rect x="402" y="3" width="1" height="1" fill="#e0e0e0"/><rect x="411" y="5" width="5" height="4" fill="#ffffff"/><rect x="412" y="6" width="3" height="1" fill="#a8b8f0"/><rect x="410" y="3" width="1" height="1" fill="#e0e0e0"/><rect x="403" y="13" width="5" height="4" fill="#ffffff"/><rect x="404" y="14" width="3" height="1" fill="#a8b8f0"/><rect x="402" y="11" width="1" height="1" fill="#e0e0e0"/><rect x="411" y="13" width="5" height="4" fill="#ffffff"/><rect x="412" y="14" width="3" height="1" fill="#a8d8a0"/><rect x="410" y="11" width="1" height="1" fill="#e0e0e0"/><rect x="426" y="0" width="1" height="20" fill="#a0a0a0"/><rect x="431" y="0" width="1" height="20" fill="#a0a0a0"/><rect x="432" y="0" width="25" height="20" fill="url(#chk)"/><rect x="439" y="5" width="1" height="13" fill="#505050"/><rect x="438" y="5" width="3" height="1" fill="#505050"/><rect x="439" y="4" width="1" height="1" fill="#505050"/><rect x="437" y="15" width="14" height="1" fill="#505050"/><rect x="450" y="14" width="1" height="3" fill="#505050"/><rect x="451" y="15" width="1" height="1" fill="#505050"/><path d="M444.5,6 L448,9.5 L444.5,12.8 Z" fill="#8ee88e" stroke="#18a020" stroke-width="1" shape-rendering="auto"/><rect x="459" y="0" width="1" height="20" fill="#a0a0a0"/><rect x="460" y="0" width="25" height="20" fill="url(#chk)"/><rect x="467" y="5" width="1" height="13" fill="#505050"/><rect x="466" y="5" width="3" height="1" fill="#505050"/><rect x="467" y="4" width="1" height="1" fill="#505050"/><rect x="465" y="15" width="14" height="1" fill="#505050"/><rect x="478" y="14" width="1" height="3" fill="#505050"/><rect x="479" y="15" width="1" height="1" fill="#505050"/><rect x="473" y="4" width="1" height="10" fill="#1a6aa8"/><path d="M474.4,9.5 L477,7.2 L476.4,9 L479,9 L479,10 L476.4,10 L477,11.8 Z" fill="#e05018" stroke="#c03008" stroke-width="0.6" shape-rendering="auto"/><rect x="488" y="0" width="1" height="20" fill="#a0a0a0"/><path d="M498.5,2.5 H506 L509.5,6 V15.5 H498.5 Z" fill="#fff" stroke="#6a6a6a" shape-rendering="auto"/><path d="M502.5,12 C502.5,8 502.5,6 504.5,5.5" fill="none" stroke="#504030" stroke-width="1" shape-rendering="auto"/><rect x="506" y="8" width="4" height="12" fill="#0b8a14"/><rect x="502" y="12" width="12" height="4" fill="#0b8a14"/><rect x="507" y="9" width="2" height="10" fill="url(#gg)"/><rect x="503" y="13" width="10" height="2" fill="url(#gg)"/><rect x="520" y="9" width="5" height="1" fill="#000"/><rect x="521" y="10" width="3" height="1" fill="#000"/><rect x="522" y="11" width="1" height="1" fill="#000"/><g shape-rendering="auto"><circle cx="543.9" cy="9.8" r="6.9" fill="#fafcff" stroke="#1a6cd0" stroke-width="2"/><path d="M543.2,6 V9.8 H546.4" fill="none" stroke="#202020" stroke-width="1.1"/></g><rect x="559" y="9" width="5" height="1" fill="#000"/><rect x="560" y="10" width="3" height="1" fill="#000"/><rect x="561" y="11" width="1" height="1" fill="#000"/><rect x="575" y="3" width="16" height="14" fill="#3a78c8"/><rect x="576" y="4" width="14" height="2" fill="#7aaae6"/><rect x="576" y="6" width="14" height="5" fill="#ffffff"/><rect x="576" y="12" width="14" height="4" fill="#ffffff"/><g shape-rendering="auto"><path d="M577.5,9.5 L580,9 L582.5,8 L585,8.5 L587.5,7.5" fill="none" stroke="#a03020" stroke-width="1.1" stroke-dasharray="1.5,0.6"/><path d="M577.5,14.4 L580,13.8 L582,14.3 L584.5,12.4 L586.5,14.2" fill="none" stroke="#20a030" stroke-width="1.1" stroke-dasharray="1.5,0.6"/></g><rect x="598" y="9" width="5" height="1" fill="#000"/><rect x="599" y="10" width="3" height="1" fill="#000"/><rect x="600" y="11" width="1" height="1" fill="#000"/><rect x="609" y="0" width="1" height="21" fill="#b8b8b8"/><rect x="613" y="2" width="3" height="1" fill="#9a9a9a"/><rect x="613" y="4" width="3" height="1" fill="#9a9a9a"/><rect x="613" y="6" width="3" height="1" fill="#9a9a9a"/><rect x="613" y="8" width="3" height="1" fill="#9a9a9a"/><rect x="613" y="10" width="3" height="1" fill="#9a9a9a"/><rect x="613" y="12" width="3" height="1" fill="#9a9a9a"/><rect x="613" y="14" width="3" height="1" fill="#9a9a9a"/><rect x="613" y="16" width="3" height="1" fill="#9a9a9a"/><rect x="613" y="18" width="3" height="1" fill="#9a9a9a"/><rect x="619" y="0" width="1" height="20" fill="#a0a0a0"/><rect x="620" y="0" width="25" height="20" fill="url(#chk)"/><path d="M627,3 L627,14.6 L630,11.8 L632.4,17.2 L634.6,16.2 L632.2,11 L635.6,10.6 Z" fill="#505050" shape-rendering="auto"/><rect x="652" y="10" width="6" height="1" fill="#505050"/><rect x="661" y="10" width="6" height="1" fill="#505050"/><rect x="659" y="3" width="1" height="6" fill="#505050"/><rect x="659" y="12" width="1" height="6" fill="#505050"/><rect x="659" y="10" width="1" height="1" fill="#808080"/><rect x="676" y="0" width="1" height="20" fill="#a0a0a0"/><rect x="693" y="4" width="1" height="13" fill="#505050"/><rect x="716" y="10" width="12" height="1" fill="#505050"/><line x1="743.5" y1="16.5" x2="756" y2="4.5" stroke="#505050" stroke-width="1.1" shape-rendering="auto"/><g shape-rendering="auto" stroke="#505050" stroke-width="1" fill="none"><line x1="770" y1="12" x2="783" y2="2.5"/><line x1="772" y1="16" x2="785" y2="6.5"/><line x1="773.5" y1="7" x2="775" y2="14"/><line x1="777" y1="5" x2="778.5" y2="12"/><line x1="780.5" y1="3" x2="782" y2="10"/></g><text x="780.5" y="19" class="ic">E</text><rect x="799" y="3" width="1" height="1" fill="#606060"/><rect x="801" y="3" width="1" height="1" fill="#606060"/><rect x="803" y="3" width="1" height="1" fill="#606060"/><rect x="805" y="3" width="1" height="1" fill="#606060"/><rect x="807" y="3" width="1" height="1" fill="#606060"/><rect x="809" y="3" width="1" height="1" fill="#606060"/><rect x="811" y="3" width="1" height="1" fill="#606060"/><rect x="799" y="6" width="1" height="1" fill="#606060"/><rect x="801" y="6" width="1" height="1" fill="#606060"/><rect x="803" y="6" width="1" height="1" fill="#606060"/><rect x="805" y="6" width="1" height="1" fill="#606060"/><rect x="807" y="6" width="1" height="1" fill="#606060"/><rect x="809" y="6" width="1" height="1" fill="#606060"/><rect x="811" y="6" width="1" height="1" fill="#606060"/><rect x="799" y="10" width="1" height="1" fill="#606060"/><rect x="801" y="10" width="1" height="1" fill="#606060"/><rect x="803" y="10" width="1" height="1" fill="#606060"/><rect x="805" y="10" width="1" height="1" fill="#606060"/><rect x="807" y="10" width="1" height="1" fill="#606060"/><rect x="809" y="10" width="1" height="1" fill="#606060"/><rect x="811" y="10" width="1" height="1" fill="#606060"/><rect x="799" y="14" width="1" height="1" fill="#606060"/><rect x="801" y="14" width="1" height="1" fill="#606060"/><rect x="803" y="14" width="1" height="1" fill="#606060"/><rect x="805" y="14" width="1" height="1" fill="#606060"/><rect x="807" y="14" width="1" height="1" fill="#606060"/><rect x="809" y="14" width="1" height="1" fill="#606060"/><rect x="811" y="14" width="1" height="1" fill="#606060"/><text x="808" y="19" class="ic">F</text><text x="829" y="15" class="icA">A</text><rect x="855" y="3" width="1" height="1" fill="#606060"/><rect x="855" y="16" width="1" height="1" fill="#606060"/><rect x="857" y="3" width="1" height="1" fill="#606060"/><rect x="857" y="16" width="1" height="1" fill="#606060"/><rect x="859" y="3" width="1" height="1" fill="#606060"/><rect x="859" y="16" width="1" height="1" fill="#606060"/><rect x="861" y="3" width="1" height="1" fill="#606060"/><rect x="861" y="16" width="1" height="1" fill="#606060"/><rect x="863" y="3" width="1" height="1" fill="#606060"/><rect x="863" y="16" width="1" height="1" fill="#606060"/><rect x="865" y="3" width="1" height="1" fill="#606060"/><rect x="865" y="16" width="1" height="1" fill="#606060"/><rect x="867" y="3" width="1" height="1" fill="#606060"/><rect x="867" y="16" width="1" height="1" fill="#606060"/><rect x="855" y="3" width="1" height="1" fill="#606060"/><rect x="867" y="3" width="1" height="1" fill="#606060"/><rect x="855" y="5" width="1" height="1" fill="#606060"/><rect x="867" y="5" width="1" height="1" fill="#606060"/><rect x="855" y="7" width="1" height="1" fill="#606060"/><rect x="867" y="7" width="1" height="1" fill="#606060"/><rect x="855" y="9" width="1" height="1" fill="#606060"/><rect x="867" y="9" width="1" height="1" fill="#606060"/><rect x="855" y="11" width="1" height="1" fill="#606060"/><rect x="867" y="11" width="1" height="1" fill="#606060"/><rect x="855" y="13" width="1" height="1" fill="#606060"/><rect x="867" y="13" width="1" height="1" fill="#606060"/><rect x="855" y="15" width="1" height="1" fill="#606060"/><rect x="867" y="15" width="1" height="1" fill="#606060"/><rect x="858" y="6" width="7" height="2" fill="#505050"/><rect x="860" y="6" width="2" height="8" fill="#505050"/><g shape-rendering="auto"><path d="M883,7.5 l3,-3 l3,3 l-3,2 z" fill="#505050"/><path d="M887,10 l2.5,2.5 l3.5,-4" fill="none" stroke="#505050" stroke-width="1.2"/><path d="M891,14 l3,-3 l3,3 l-3,3 z" fill="#505050"/></g><rect x="903" y="9" width="5" height="1" fill="#000"/><rect x="904" y="10" width="3" height="1" fill="#000"/><rect x="905" y="11" width="1" height="1" fill="#000"/><rect x="915" y="0" width="1" height="21" fill="#a0a0a0"/><rect x="919" y="2" width="3" height="1" fill="#9a9a9a"/><rect x="919" y="4" width="3" height="1" fill="#9a9a9a"/><rect x="919" y="6" width="3" height="1" fill="#9a9a9a"/><rect x="919" y="8" width="3" height="1" fill="#9a9a9a"/><rect x="919" y="10" width="3" height="1" fill="#9a9a9a"/><rect x="919" y="12" width="3" height="1" fill="#9a9a9a"/><rect x="919" y="14" width="3" height="1" fill="#9a9a9a"/><rect x="919" y="16" width="3" height="1" fill="#9a9a9a"/><rect x="919" y="18" width="3" height="1" fill="#9a9a9a"/><rect x="1065" y="0" width="1" height="20" fill="#a0a0a0"/><rect x="1066" y="0" width="25" height="20" fill="url(#chk)"/><text x="930" y="14" class="tf">M1</text><text x="958" y="14" class="tf">M5</text><text x="984" y="14" class="tf">M15</text><text x="1012" y="14" class="tf">M30</text><text x="1043" y="14" class="tf">H1</text><text x="1070" y="14" class="tf">H4</text><text x="1099" y="14" class="tf">D1</text><text x="1126" y="14" class="tf">W1</text><text x="1153" y="14" class="tf">MN</text><rect x="1176" y="0" width="1" height="21" fill="#a0a0a0"/><g shape-rendering="auto"><circle cx="1646.6" cy="7.4" r="3.9" fill="#fff" stroke="#2a5ed8" stroke-width="1.4"/><line x1="1643.8" y1="10.4" x2="1639.8" y2="14.6" stroke="#2a5ed8" stroke-width="2.2"/><ellipse cx="1669.5" cy="12.2" rx="6" ry="4.4" fill="#e2e2ea" stroke="#a8a8a8"/><path d="M1665.5,15.5 l-0.8,3.2 l3.6,-2.6 z" fill="#a0a0a0"/><circle cx="1677.5" cy="7.5" r="8.2" fill="url(#badge)"/></g><text x="1674.6" y="12.2" class="badge">1</text></svg></body></html>
